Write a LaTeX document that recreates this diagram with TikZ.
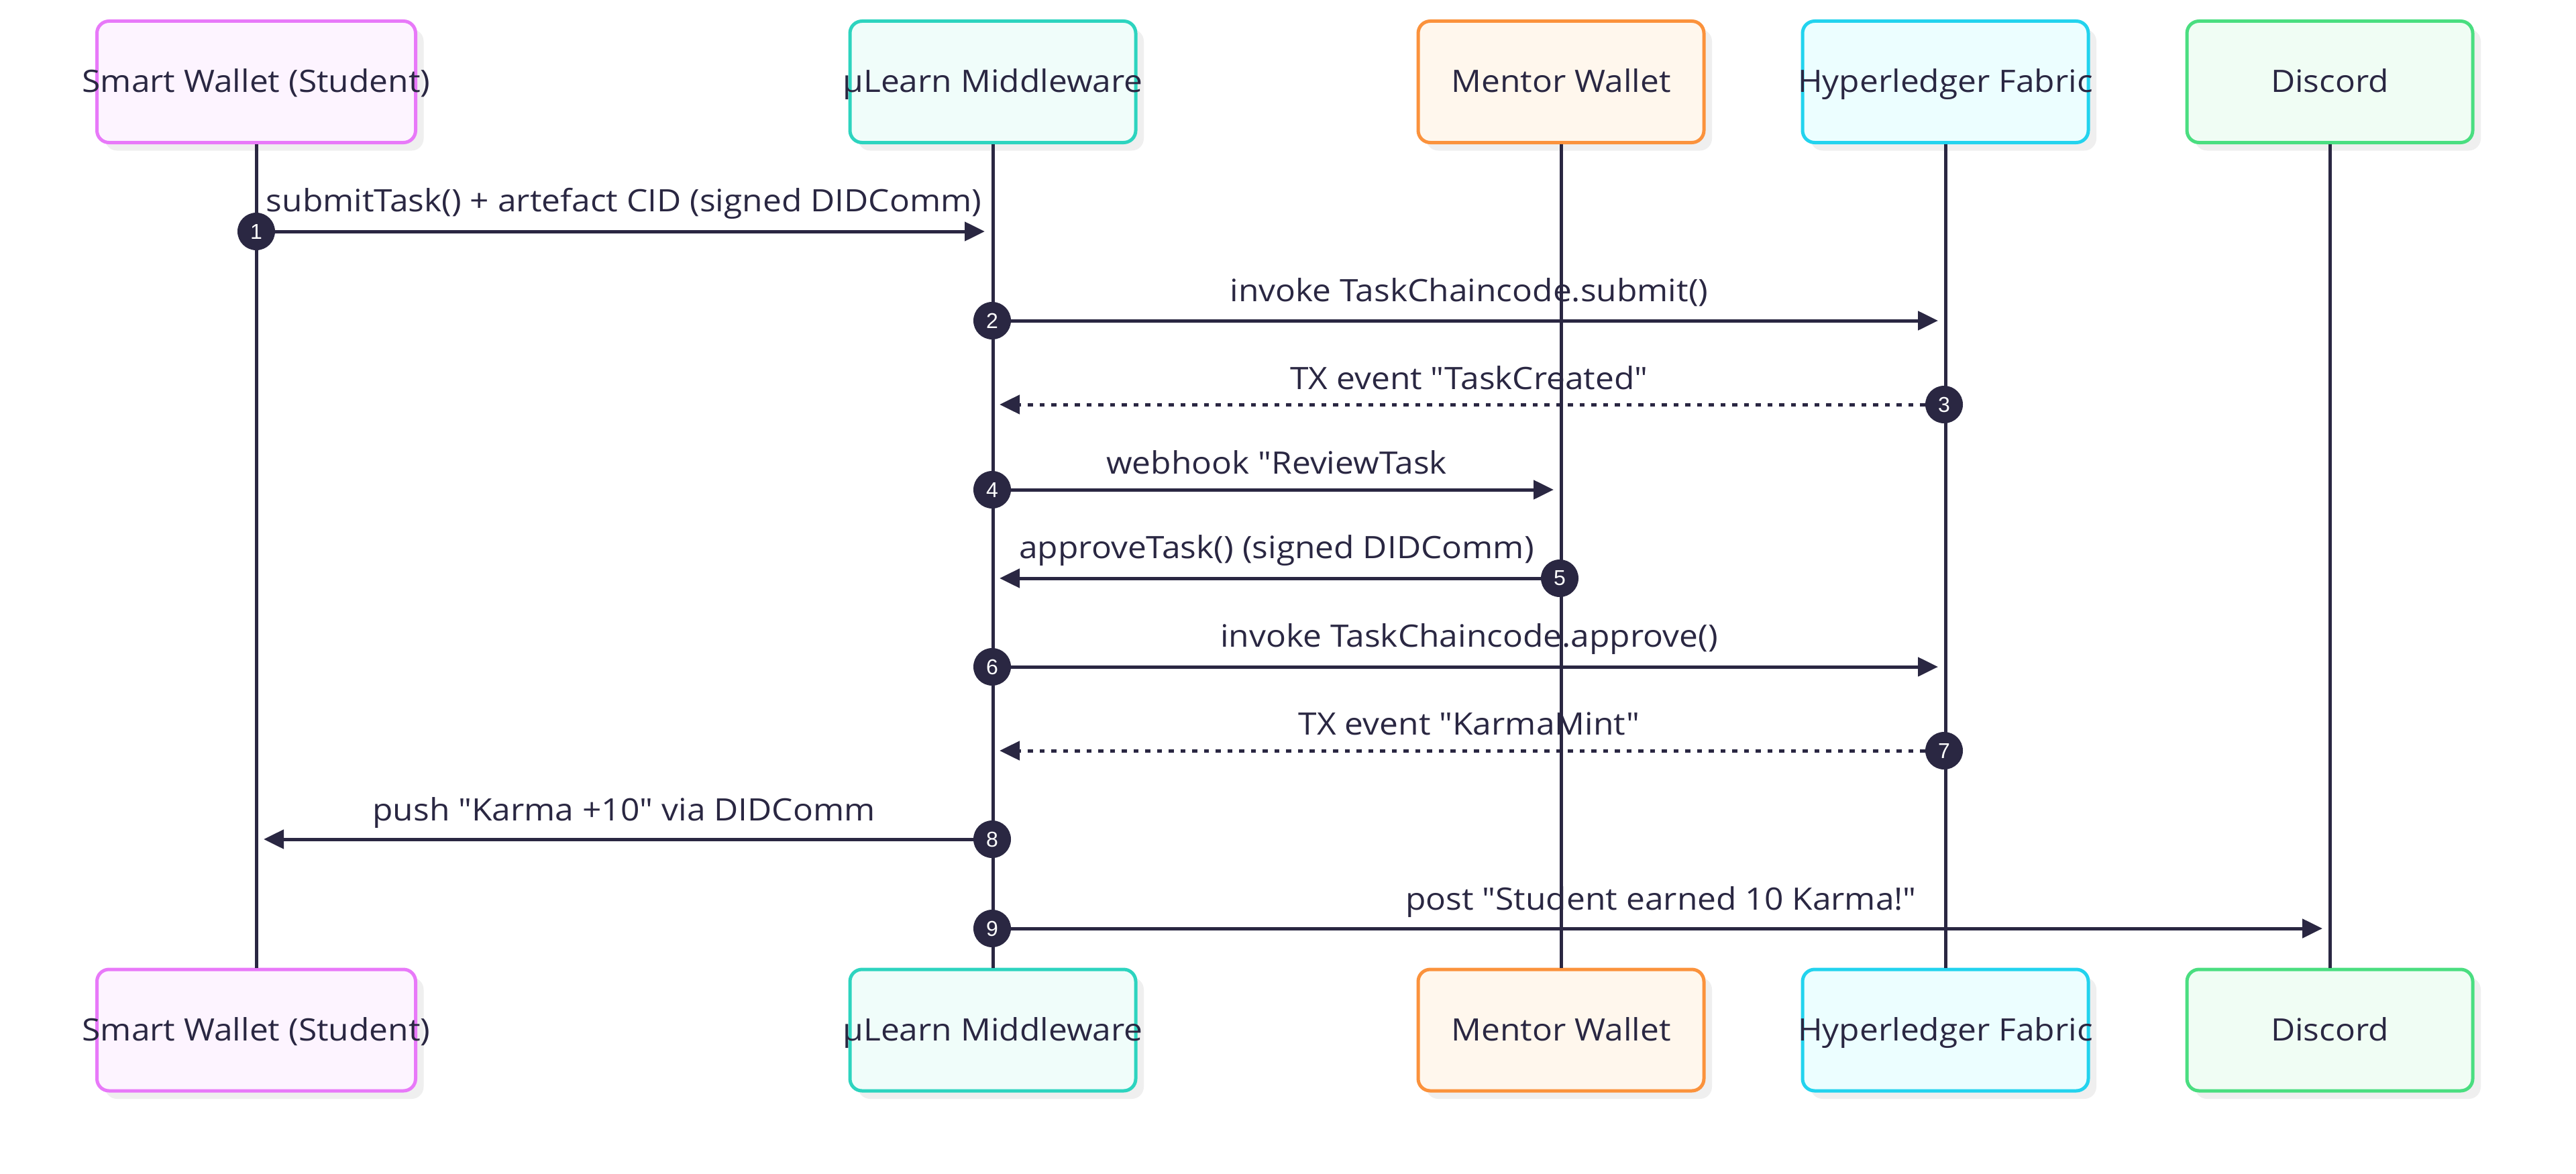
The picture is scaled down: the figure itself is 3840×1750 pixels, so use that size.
\documentclass[tikz,border=0pt]{standalone}
\usepackage{fontspec}
\setmainfont{Open Sans}[Ligatures=TeXOff, FakeStretch=1.08]
\newfontfamily\numfont{Liberation Sans}
\usetikzlibrary{arrows.meta,shadows}
\definecolor{ink}{HTML}{2A2742}
\definecolor{shade}{HTML}{EFEFEF}
\definecolor{fuchB}{HTML}{E879F9}\definecolor{fuchF}{HTML}{FDF4FF}
\definecolor{tealB}{HTML}{2DD4BF}\definecolor{tealF}{HTML}{F0FDFA}
\definecolor{oranB}{HTML}{FB923C}\definecolor{oranF}{HTML}{FFF7ED}
\definecolor{cyanB}{HTML}{22D3EE}\definecolor{cyanF}{HTML}{ECFEFF}
\definecolor{grenB}{HTML}{4ADE80}\definecolor{grenF}{HTML}{F0FDF4}
\newcommand{\ovl}[1]{\makebox[0pt]{#1}}
\begin{document}
\begin{tikzpicture}[x=0.5pt,y=-0.5pt,
  actor/.style={rectangle, rounded corners=9pt, line width=2.5pt, minimum height=90.5pt,
    minimum width=213pt, inner sep=0pt, text=ink, font=\fontsize{23}{27}\selectfont,
    text height=16pt, text depth=0pt,
    drop shadow={shadow xshift=6pt, shadow yshift=-6pt, fill=shade, opacity=1}},
  wideactor/.style={actor, minimum width=237.5pt},
  life/.style={draw=ink, line width=2.5pt},
  msg/.style={draw=ink, line width=2.5pt, -{Triangle[length=15pt,width=14pt]}},
  msgdot/.style={msg, dash pattern=on 3.75pt off 5pt},
  num/.style={circle, fill=ink, text=white, minimum size=28pt, inner sep=0pt,
    font=\numfont\fontsize{16}{16}\selectfont},
  lbl/.style={anchor=base, text=ink, inner sep=0pt, font=\fontsize{23}{27}\selectfont}]
\path[use as bounding box, fill=white] (0,0) rectangle (3840,1750);

% actors
\node[wideactor, draw=fuchB, fill=fuchF] (stT) at (382,122) {\ovl{Smart Wallet (Student)}};
\node[actor, draw=tealB, fill=tealF] (mwT) at (1480,122) {\ovl{μLearn Middleware}};
\node[actor, draw=oranB, fill=oranF] (meT) at (2327,122) {\ovl{Mentor Wallet}};
\node[actor, draw=cyanB, fill=cyanF] (hfT) at (2900,122) {\ovl{Hyperledger Fabric}};
\node[actor, draw=grenB, fill=grenF] (dcT) at (3473,122) {\ovl{Discord}};

% labels
\node[lbl] (l1) at (930,315) {submitTask() + artefact CID (signed DIDComm)};
\node[lbl] (l2) at (2190,449) {invoke TaskChaincode.submit()};
\node[lbl] (l3) at (2190,580) {TX event "TaskCreated"};
\node[lbl] (l4) at (1903,706) {webhook "ReviewTask};
\node[lbl] (l5) at (1903,832) {approveTask() (signed DIDComm)};
\node[lbl] (l6) at (2190,964) {invoke TaskChaincode.approve()};
\node[lbl] (l7) at (2190,1095) {TX event "KarmaMint"};
\node[lbl] (l8) at (930,1223) {push "Karma +10" via DIDComm};
\node[lbl] (l9) at (2476,1356) {post "Student earned 10 Karma!"};

% bottom actors
\node[wideactor, draw=fuchB, fill=fuchF] (stB) at (382,1535.5) {\ovl{Smart Wallet (Student)}};
\node[actor, draw=tealB, fill=tealF] (mwB) at (1480,1535.5) {\ovl{μLearn Middleware}};
\node[actor, draw=oranB, fill=oranF] (meB) at (2327,1535.5) {\ovl{Mentor Wallet}};
\node[actor, draw=cyanB, fill=cyanF] (hfB) at (2900,1535.5) {\ovl{Hyperledger Fabric}};
\node[actor, draw=grenB, fill=grenF] (dcB) at (3473,1535.5) {\ovl{Discord}};

% lifelines
\draw[life] (stT.south) -- (stB.north);
\draw[life] (mwT.south) -- (mwB.north);
\draw[life] (meT.south) -- (meB.north);
\draw[life] (hfT.south) -- (hfB.north);
\draw[life] (dcT.south) -- (dcB.north);

% message end points
\coordinate (t1) at (1468,345);
\coordinate (t2) at (2889,478);
\coordinate (t3) at (1490,603);
\coordinate (t4) at (2316,730);
\coordinate (t5) at (1490,862);
\coordinate (t6) at (2889,994);
\coordinate (t7) at (1490,1119);
\coordinate (t8) at (393,1251);
\coordinate (t9) at (3462,1384);

% step circles
\node[num] (n1) at (382,345) {1};
\node[num] (n2) at (1479,478) {2};
\node[num] (n3) at (2898,603) {3};
\node[num] (n4) at (1479,730) {4};
\node[num] (n5) at (2325,862) {5};
\node[num] (n6) at (1479,994) {6};
\node[num] (n7) at (2898,1119) {7};
\node[num] (n8) at (1479,1251) {8};
\node[num] (n9) at (1479,1384) {9};

% messages
\draw[msg] (n1) -- (t1);
\draw[msg] (n2) -- (t2);
\draw[msgdot] (n3) -- (t3);
\draw[msg] (n4) -- (t4);
\draw[msg] (n5) -- (t5);
\draw[msg] (n6) -- (t6);
\draw[msgdot] (n7) -- (t7);
\draw[msg] (n8) -- (t8);
\draw[msg] (n9) -- (t9);
\end{tikzpicture}
\end{document}
